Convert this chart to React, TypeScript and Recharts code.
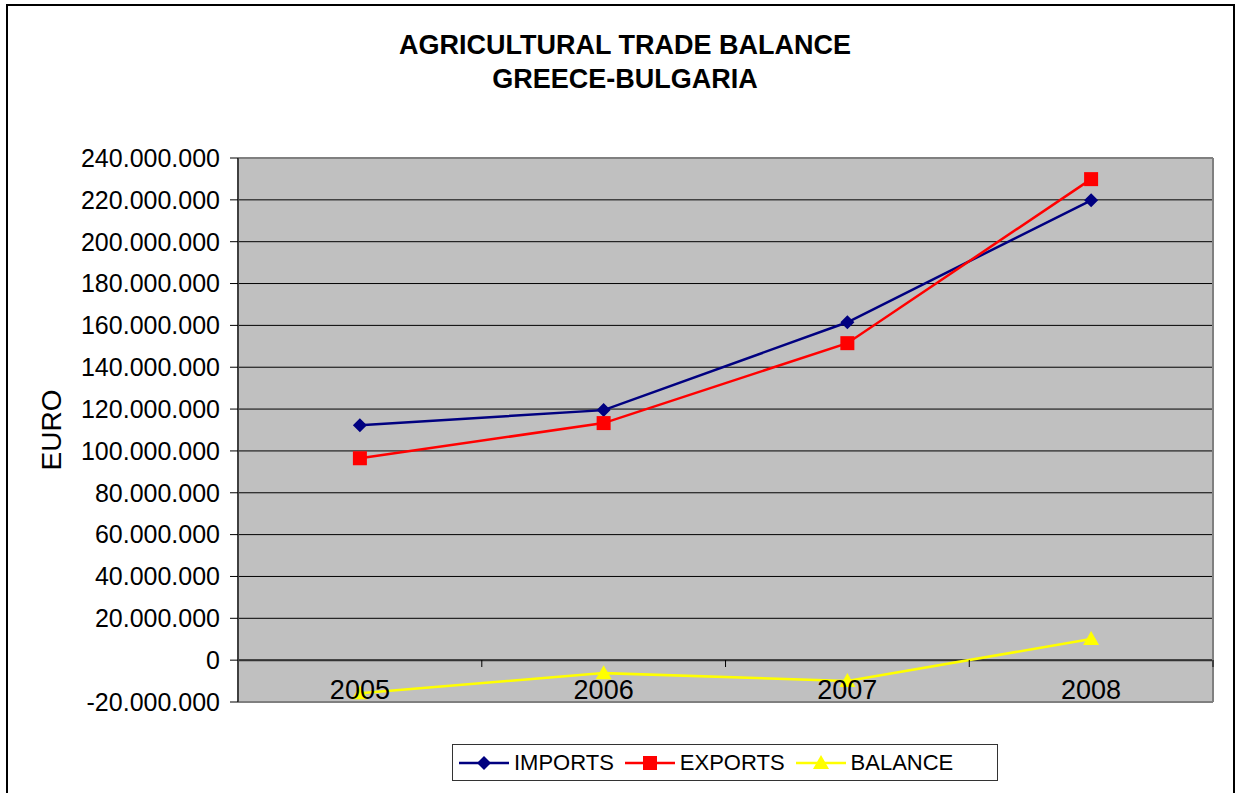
import React from 'react';
import {
  LineChart,
  Line,
  XAxis,
  YAxis,
  CartesianGrid,
  ReferenceLine,
} from 'recharts';

const years = ['2005', '2006', '2007', '2008'];
const imports = [112300000, 119500000, 161500000, 219800000];
const exportsValues = [96500000, 113300000, 151500000, 229900000];
const balance = [-15800000, -6200000, -10000000, 10100000];
const yTicks = [
  -20000000, 0, 20000000, 40000000, 60000000, 80000000, 100000000, 120000000,
  140000000, 160000000, 180000000, 200000000, 220000000, 240000000,
];
const yDomain = [-20000000, 240000000];

const data = years.map((year, i) => ({
  year,
  imports: imports[i],
  exports: exportsValues[i],
  balance: balance[i],
}));

const series = [
  { key: 'imports', name: 'IMPORTS', color: '#000080', shape: 'diamond' },
  { key: 'exports', name: 'EXPORTS', color: '#FF0000', shape: 'square' },
  { key: 'balance', name: 'BALANCE', color: '#FFFF00', shape: 'triangle' },
];

const fmt = (v: number) => {
  const s = Math.abs(v).toString().replace(/\B(?=(\d{3})+(?!\d))/g, '.');
  return v < 0 ? '-' + s : s;
};

const Marker = ({ cx, cy, shape, color }: any) => {
  if (cx == null || cy == null) return null;
  if (shape === 'diamond') {
    return <polygon points={`${cx},${cy - 7} ${cx + 7},${cy} ${cx},${cy + 7} ${cx - 7},${cy}`} fill={color} />;
  }
  if (shape === 'square') {
    return <rect x={cx - 7} y={cy - 7} width={14} height={14} fill={color} />;
  }
  return <polygon points={`${cx},${cy - 8} ${cx + 8},${cy + 6} ${cx - 8},${cy + 6}`} fill={color} />;
};

const font = "Arial, 'Liberation Sans', sans-serif";

// half of a category slot; the small ticks on the zero line sit between years
const HALF = 121.9;

const YearTick = ({ x, y, payload }: any) => (
  <g>
    <line x1={x + HALF} y1={y - 42} x2={x + HALF} y2={y - 35} stroke="#000" strokeWidth={1} />
    <text x={x} y={y - 3} textAnchor="middle" fontSize={27} fill="#000" fontFamily={font}>
      {payload.value}
    </text>
  </g>
);

export default function App() {
  return (
    <div style={{ position: 'absolute', left: 0, top: 0, width: 1237, height: 793, background: '#fff', overflow: 'hidden', fontFamily: font }}>
      <div style={{ position: 'absolute', left: 6, top: 4, width: 1229, height: 800, border: '2px solid #000', boxSizing: 'border-box' }} />
      <div style={{ position: 'absolute', left: 0, top: 28, width: 1250, textAlign: 'center', fontWeight: 'bold', fontSize: 27, lineHeight: '34px', color: '#000' }}>
        AGRICULTURAL TRADE BALANCE
        <br />
        GREECE-BULGARIA
      </div>
      <div style={{ position: 'absolute', left: 52, top: 430, transform: 'translate(-50%, -50%) rotate(-90deg)', fontSize: 28, color: '#000', whiteSpace: 'nowrap' }}>
        EURO
      </div>
      <div style={{ position: 'absolute', left: 0, top: 0 }}>
        <LineChart width={1237} height={793} data={data} margin={{ top: 158, right: 22, bottom: 61, left: 88 }}>
          <CartesianGrid horizontal vertical={false} stroke="#000" strokeWidth={1} fill="#C0C0C0" fillOpacity={1} />
          <XAxis
            dataKey="year"
            height={30}
            padding={{ left: HALF, right: HALF }}
            axisLine={{ stroke: '#808080', strokeWidth: 2 }}
            tickLine={false}
            tickSize={0}
            tickMargin={0}
            tick={<YearTick />}
            interval={0}
          />
          <YAxis
            width={150}
            domain={yDomain}
            ticks={yTicks}
            tickFormatter={fmt}
            axisLine={{ stroke: '#404040', strokeWidth: 2 }}
            tickLine={{ stroke: '#000' }}
            tickSize={8}
            tickMargin={10}
            tick={{ fontSize: 25, fill: '#000', fontFamily: font }}
            interval={0}
          />
          <YAxis
            yAxisId="edge"
            orientation="right"
            width={2}
            domain={yDomain}
            tick={false}
            tickLine={false}
            axisLine={{ stroke: '#808080', strokeWidth: 2 }}
          />
          <ReferenceLine y={240000000} stroke="#808080" strokeWidth={2} />
          <ReferenceLine y={0} stroke="#333" strokeWidth={2} />
          {series.map((s) => (
            <Line
              key={s.key}
              dataKey={s.key}
              name={s.name}
              type="linear"
              stroke={s.color}
              strokeWidth={2.5}
              dot={(p: any) => <Marker key={`${s.key}-${p.index}`} cx={p.cx} cy={p.cy} shape={s.shape} color={s.color} />}
              isAnimationActive={false}
            />
          ))}
        </LineChart>
      </div>
      <div style={{ position: 'absolute', left: 452, top: 744, width: 546, height: 37, border: '1.5px solid #333', boxSizing: 'border-box', background: '#fff', display: 'flex', alignItems: 'center', paddingLeft: 5 }}>
        {series.map((s) => (
          <div key={s.key} style={{ display: 'flex', alignItems: 'center', marginRight: 10 }}>
            <svg width={52} height={20}>
              <line x1={1} y1={10} x2={51} y2={10} stroke={s.color} strokeWidth={2.5} />
              <Marker cx={26} cy={10} shape={s.shape} color={s.color} />
            </svg>
            <span style={{ fontSize: 22, marginLeft: 4, color: '#000' }}>{s.name}</span>
          </div>
        ))}
      </div>
    </div>
  );
}
